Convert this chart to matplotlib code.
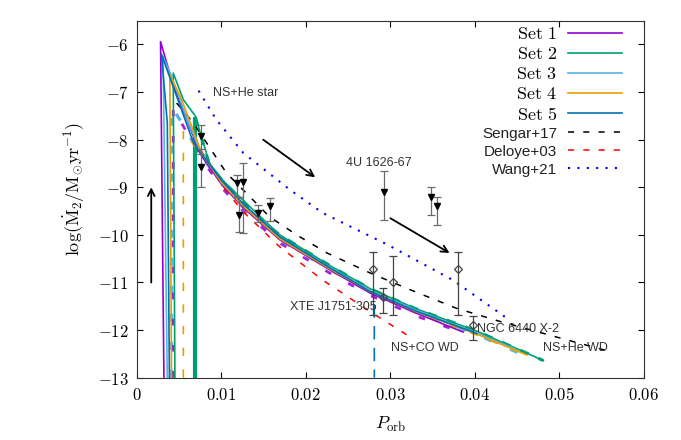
import matplotlib
matplotlib.use("Agg")
import matplotlib.pyplot as plt

plt.rcParams['mathtext.fontset'] = 'cm'
plt.rcParams['font.family'] = ['DejaVu Sans']

# ---------------- data ----------------
set1_x = [0.0032, 0.0028, 0.0042, 0.0075, 0.0100, 0.0126, 0.0169, 0.0228, 0.0276, 0.0330, 0.0386]
set1_y = [-13.0, -5.94, -6.80, -8.30, -8.93, -9.43, -10.10, -10.73, -11.22, -11.64, -12.04]
set1d_x = [0.0043, 0.0043, 0.0055, 0.0075, 0.0100, 0.0126, 0.0169, 0.0228, 0.0276, 0.0330, 0.0386]
set1d_y = [-13.0, -7.34, -7.72, -8.36, -9.00, -9.50, -10.17, -10.80, -11.27, -11.70, -12.06]

set2_x = [0.0045, 0.0043, 0.0055, 0.0069, 0.0086, 0.0102, 0.0132, 0.0169, 0.0228, 0.0276, 0.0330, 0.0402, 0.0461, 0.0481]
set2_y = [-13.0, -6.60, -7.16, -7.50, -8.50, -8.86, -9.38, -10.00, -10.64, -11.13, -11.55, -12.02, -12.48, -12.64]
set2d_x = [0.0069, 0.0086, 0.0102, 0.0132, 0.0154, 0.0169, 0.0228, 0.0276, 0.0330, 0.0402, 0.0461, 0.0481]
set2d_y = [-7.52, -8.53, -8.88, -9.41, -9.79, -10.00, -10.64, -11.13, -11.55, -12.02, -12.48, -12.64]
set2v_x = [0.0069, 0.0069]
set2v_y = [-13.0, -7.52]

set3_x = [0.0036, 0.0031, 0.0041, 0.0060, 0.0075, 0.0100, 0.0126, 0.0169, 0.0228, 0.0276, 0.0330, 0.0402, 0.0445]
set3_y = [-13.0, -6.25, -6.67, -7.60, -8.25, -8.88, -9.38, -10.05, -10.68, -11.17, -11.58, -12.06, -12.38]
set3d_x = [0.0041, 0.0041, 0.0055, 0.0075, 0.0100, 0.0126, 0.0169, 0.0228, 0.0276, 0.0330, 0.0402, 0.0461]
set3d_y = [-13.0, -7.30, -7.70, -8.30, -8.92, -9.42, -10.10, -10.72, -11.20, -11.62, -12.09, -12.55]

set4_x = [0.0041, 0.0039, 0.0053, 0.0077, 0.0100, 0.0126, 0.0169, 0.0228, 0.0276, 0.0330, 0.0402, 0.0461]
set4_y = [-13.0, -6.64, -7.16, -8.30, -8.90, -9.40, -10.08, -10.71, -11.19, -11.61, -12.08, -12.52]
set4d_x = [0.0055, 0.0055, 0.0075, 0.0100, 0.0126, 0.0169, 0.0228, 0.0276, 0.0330, 0.0402, 0.0461]
set4d_y = [-13.0, -7.80, -8.30, -8.92, -9.42, -10.10, -10.73, -11.22, -11.64, -12.10, -12.53]

set5_x = [0.00385, 0.0036, 0.0029, 0.0067, 0.0100, 0.0126, 0.0169, 0.0228, 0.0276, 0.0330, 0.0402]
set5_y = [-13.0, -7.64, -6.20, -8.07, -8.85, -9.35, -10.04, -10.69, -11.19, -11.60, -12.07]
set5d_x = [0.0075, 0.0100, 0.0126, 0.0169, 0.0228, 0.0281, 0.0281]
set5d_y = [-8.25, -8.88, -9.38, -10.06, -10.70, -11.24, -13.0]

sengar_x = [0.0047, 0.0067, 0.0106, 0.0157, 0.0189, 0.0225, 0.0276, 0.0330, 0.0378, 0.0430, 0.0516, 0.0560]
sengar_y = [-7.23, -7.65, -8.70, -9.62, -10.00, -10.38, -10.80, -11.20, -11.54, -11.82, -12.24, -12.45]

deloye_x = [0.0075, 0.0100, 0.0125, 0.0169, 0.0220, 0.0275, 0.0323]
deloye_y = [-8.20, -8.95, -9.50, -10.25, -10.95, -11.60, -12.14]

wang_x = [0.0073, 0.0094, 0.0126, 0.0181, 0.0220, 0.0296, 0.0374, 0.0441]
wang_y = [-6.97, -7.58, -8.28, -9.05, -9.54, -10.20, -10.95, -11.79]

# upper-limit observations (down triangles): x, y, lower, upper
tri_x = [0.00757, 0.00757, 0.0118, 0.0121, 0.01258, 0.01436, 0.01574, 0.02923, 0.0348, 0.03546]
tri_y = [-7.92, -8.58, -8.90, -9.58, -8.88, -9.54, -9.40, -9.09, -9.20, -9.40]
tri_lo = [-8.30, -9.00, -9.21, -9.93, -9.96, -9.72, -9.71, -9.68, -9.58, -9.79]
tri_hi = [-7.69, -8.20, -8.74, -9.21, -8.49, -9.37, -9.23, -8.66, -9.00, -9.21]

# measured observations (open diamonds)
dia_x = [0.0279, 0.02915, 0.03033, 0.03803, 0.0398]
dia_y = [-10.71, -11.30, -11.00, -10.71, -11.89]
dia_lo = [-11.68, -11.65, -11.68, -11.68, -12.21]
dia_hi = [-10.35, -11.12, -10.44, -10.35, -11.70]

xticks = [0, 0.01, 0.02, 0.03, 0.04, 0.05, 0.06]
xtick_labels = ['0', '0.01', '0.02', '0.03', '0.04', '0.05', '0.06']
yticks = [-13, -12, -11, -10, -9, -8, -7, -6]
ytick_labels = ['-13', '-12', '-11', '-10', '-9', '-8', '-7', '-6']

labels_txt = ['NS+He star', '4U 1626-67', 'XTE J1751-305', 'NGC 6440 X-2', 'NS+CO WD', 'NS+He WD']
labels_x = [0.0090, 0.0248, 0.0181, 0.0402, 0.0301, 0.0481]
labels_y = [-7.01, -8.48, -11.52, -11.98, -12.38, -12.38]

arrows_start = [(0.0017, -11.0), (0.01495, -8.0), (0.0300, -9.65)]
arrows_end = [(0.0017, -9.0), (0.0211, -8.79), (0.0370, -10.38)]

c1, c2, c3, c4, c5 = '#9400d3', '#009e73', '#56b4e9', '#e69f00', '#0072b2'

# ---------------- figure ----------------
fig = plt.figure(figsize=(6.81, 4.40), dpi=100)
ax = fig.add_axes([0.201, 0.1416, 0.7445, 0.8114])

ax.plot(set3d_x, set3d_y, color=c3, lw=2.4, dashes=(2.4, 6.0))
ax.plot(set1d_x, set1d_y, color=c1, lw=2.0, dashes=(2.4, 7.0), alpha=0.85)
ax.plot(set2d_x, set2d_y, color=c2, lw=2.2, dashes=(3, 3.5))
ax.plot(set2v_x, set2v_y, color=c2, lw=3.0, solid_capstyle='butt')
ax.plot(set4d_x, set4d_y, color=c4, lw=1.2, dashes=(5, 8))
ax.plot(set5d_x, set5d_y, color=c5, lw=1.2, dashes=(8, 5))

ax.plot(deloye_x, deloye_y, color='#ff0000', lw=1.1, dashes=(4, 6))
ax.plot(sengar_x, sengar_y, color='black', lw=1.1, dashes=(4, 6))
ax.plot(wang_x, wang_y, color='#0000ff', lw=1.5, dashes=(1, 3.5))

l1, = ax.plot(set1_x, set1_y, color=c1, lw=1.2)
l2, = ax.plot(set2_x, set2_y, color=c2, lw=1.2)
l3, = ax.plot(set3_x, set3_y, color=c3, lw=1.2)
l4, = ax.plot(set4_x, set4_y, color=c4, lw=1.2)
l5, = ax.plot(set5_x, set5_y, color=c5, lw=1.2)

# legend proxies from the same styles
ls, = ax.plot([], [], color='black', lw=1.1, dashes=(4, 6))
ld, = ax.plot([], [], color='#ff0000', lw=1.1, dashes=(4, 6))
lw_, = ax.plot([], [], color='#0000ff', lw=1.5, dashes=(1, 3.5))

# observations
for x, y, lo, hi in zip(tri_x, tri_y, tri_lo, tri_hi):
    ax.errorbar([x], [y], yerr=[[y - lo], [hi - y]], fmt='none', ecolor='#6a6a6a',
                elinewidth=0.9, capsize=3, capthick=0.9)
ax.plot(tri_x, tri_y, 'v', color='black', ms=5, ls='none')
for x, y, lo, hi in zip(dia_x, dia_y, dia_lo, dia_hi):
    ax.errorbar([x], [y], yerr=[[y - lo], [hi - y]], fmt='none', ecolor='#444444',
                elinewidth=0.9, capsize=3, capthick=0.9)
ax.plot(dia_x, dia_y, 'D', mfc='none', mec='#444444', ms=4, mew=0.9, ls='none')

for s, e in zip(arrows_start, arrows_end):
    ax.annotate('', xy=e, xytext=s,
                arrowprops=dict(arrowstyle='->', color='black', lw=1.3,
                                mutation_scale=12, shrinkA=0, shrinkB=0))

for t, x, y in zip(labels_txt, labels_x, labels_y):
    ax.text(x, y, t, fontsize=9, family='Liberation Sans', color='#333333',
            ha='left', va='center')

ax.set_xlim(0, 0.06)
ax.set_ylim(-13, -5.5)
ax.set_xticks(xticks)
ax.set_xticklabels(['$' + s + '$' for s in xtick_labels], fontsize=12)
ax.set_yticks(yticks)
ax.set_yticklabels(['$' + s + '$' for s in ytick_labels], fontsize=12)
ax.tick_params(direction='in', top=True, right=True, length=4, width=0.8, pad=6)
for sp in ax.spines.values():
    sp.set_linewidth(0.8)
    sp.set_color('#333333')

ax.set_xlabel(r'$P_{\rm orb}$', fontsize=13)
ax.set_ylabel(r'$\log(\dot{\rm M}_2/{\rm M}_{\odot}{\rm yr}^{-1})$', fontsize=13)
ax.yaxis.set_label_coords(-0.098, 0.53)
ax.xaxis.set_label_coords(0.5, -0.105)

handles = [l1, l2, l3, l4, l5, ls, ld, lw_]
labs = [r'$\mathrm{Set\ 1}$', r'$\mathrm{Set\ 2}$', r'$\mathrm{Set\ 3}$', r'$\mathrm{Set\ 4}$',
        r'$\mathrm{Set\ 5}$', 'Sengar+17', 'Deloye+03', 'Wang+21']
leg = ax.legend(handles, labs, loc='upper right', bbox_to_anchor=(622 / 681, 1 - 25 / 440),
                bbox_transform=fig.transFigure, frameon=False, markerfirst=False,
                fontsize=13, handlelength=3.0, handletextpad=0.6, labelspacing=0.12,
                borderpad=0, borderaxespad=0)
for t in leg.get_texts()[5:]:
    t.set_fontfamily('Liberation Sans')
    t.set_fontsize(11)
    t.set_color('#222222')

fig.savefig('out.png', dpi=100)
